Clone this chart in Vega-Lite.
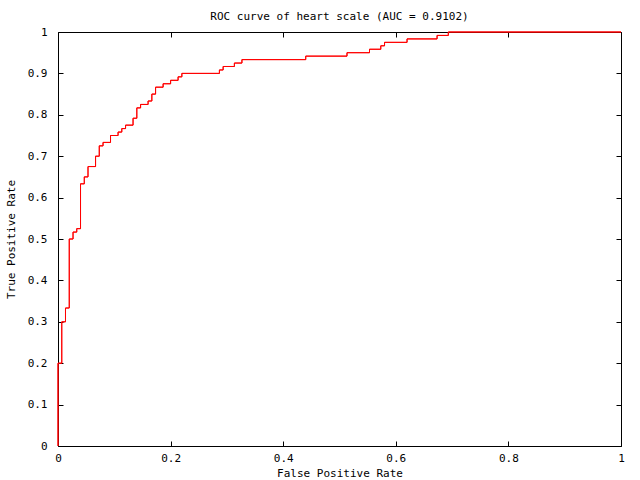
{
  "$schema": "https://vega.github.io/schema/vega-lite/v6.json",
  "width": 563,
  "height": 414,
  "autosize": {"type": "none"},
  "padding": {"left": 58, "top": 32, "right": 19, "bottom": 34},
  "background": "white",
  "title": {"text": "ROC curve of heart scale (AUC = 0.9102)", "font": "DejaVu Sans Mono", "fontSize": 11, "fontWeight": "normal", "color": "black", "offset": 4, "anchor": "middle"},
  "config": {
    "view": {"stroke": null},
    "axis": {"grid": false, "domain": true, "domainColor": "black", "domainWidth": 1, "tickColor": "black", "tickWidth": 1, "tickSize": -5, "labelFont": "DejaVu Sans Mono", "labelFontSize": 11, "labelColor": "black", "titleFont": "DejaVu Sans Mono", "titleFontSize": 11, "titleFontWeight": "normal", "titleColor": "black", "format": "~g", "labelFlush": false, "labelOverlap": false}
  },
  "data": {"values": [
    {"i": 0, "fpr": 0, "tpr": 0},
    {"i": 1, "fpr": 0, "tpr": 0.2},
    {"i": 2, "fpr": 0.0067, "tpr": 0.3},
    {"i": 3, "fpr": 0.0133, "tpr": 0.3333},
    {"i": 4, "fpr": 0.02, "tpr": 0.5},
    {"i": 5, "fpr": 0.0267, "tpr": 0.5167},
    {"i": 6, "fpr": 0.0333, "tpr": 0.525},
    {"i": 7, "fpr": 0.04, "tpr": 0.6333},
    {"i": 8, "fpr": 0.0467, "tpr": 0.65},
    {"i": 9, "fpr": 0.0533, "tpr": 0.675},
    {"i": 10, "fpr": 0.0667, "tpr": 0.7},
    {"i": 11, "fpr": 0.0733, "tpr": 0.725},
    {"i": 12, "fpr": 0.08, "tpr": 0.7333},
    {"i": 13, "fpr": 0.0933, "tpr": 0.75},
    {"i": 14, "fpr": 0.1067, "tpr": 0.7583},
    {"i": 15, "fpr": 0.1133, "tpr": 0.7667},
    {"i": 16, "fpr": 0.12, "tpr": 0.775},
    {"i": 17, "fpr": 0.1333, "tpr": 0.7917},
    {"i": 18, "fpr": 0.14, "tpr": 0.8167},
    {"i": 19, "fpr": 0.1467, "tpr": 0.825},
    {"i": 20, "fpr": 0.16, "tpr": 0.8333},
    {"i": 21, "fpr": 0.1667, "tpr": 0.85},
    {"i": 22, "fpr": 0.1733, "tpr": 0.8667},
    {"i": 23, "fpr": 0.1867, "tpr": 0.875},
    {"i": 24, "fpr": 0.2, "tpr": 0.8833},
    {"i": 25, "fpr": 0.2133, "tpr": 0.8917},
    {"i": 26, "fpr": 0.22, "tpr": 0.9},
    {"i": 27, "fpr": 0.2867, "tpr": 0.9083},
    {"i": 28, "fpr": 0.2933, "tpr": 0.9167},
    {"i": 29, "fpr": 0.3133, "tpr": 0.925},
    {"i": 30, "fpr": 0.3267, "tpr": 0.9333},
    {"i": 31, "fpr": 0.44, "tpr": 0.9417},
    {"i": 32, "fpr": 0.5133, "tpr": 0.95},
    {"i": 33, "fpr": 0.5533, "tpr": 0.9583},
    {"i": 34, "fpr": 0.5733, "tpr": 0.9667},
    {"i": 35, "fpr": 0.58, "tpr": 0.975},
    {"i": 36, "fpr": 0.62, "tpr": 0.9833},
    {"i": 37, "fpr": 0.6733, "tpr": 0.9917},
    {"i": 38, "fpr": 0.6933, "tpr": 1},
    {"i": 39, "fpr": 1, "tpr": 1}
  ]},
  "layer": [
    {
      "mark": {"type": "line", "interpolate": "step-after", "color": "#ff0000", "strokeWidth": 1},
      "encoding": {
        "x": {"field": "fpr", "type": "quantitative", "scale": {"domain": [0, 1], "nice": false}, "axis": {"orient": "bottom", "title": "False Positive Rate", "values": [0, 0.2, 0.4, 0.6, 0.8, 1], "labelOverlap": false, "labelFlush": false, "labelBound": false, "labelPadding": 11, "titleY": 27, "titleBaseline": "middle"}},
        "y": {"field": "tpr", "type": "quantitative", "scale": {"domain": [0, 1], "nice": false}, "axis": {"orient": "left", "title": "True Positive Rate", "values": [0, 0.1, 0.2, 0.3, 0.4, 0.5, 0.6, 0.7, 0.8, 0.9, 1], "labelOverlap": false, "labelFlush": false, "labelPadding": 16, "titleX": -47, "titleBaseline": "middle"}},
        "order": {"field": "i", "type": "quantitative"}
      }
    },
    {
      "mark": {"type": "line", "interpolate": "step-after", "color": "#ff0000", "strokeWidth": 1},
      "encoding": {
        "x": {"field": "fpr", "type": "quantitative", "scale": {"domain": [0, 1], "nice": false}, "axis": {"orient": "top", "title": null, "labels": false, "values": [0, 0.2, 0.4, 0.6, 0.8, 1]}},
        "y": {"field": "tpr", "type": "quantitative", "scale": {"domain": [0, 1], "nice": false}, "axis": {"orient": "right", "title": null, "labels": false, "values": [0, 0.1, 0.2, 0.3, 0.4, 0.5, 0.6, 0.7, 0.8, 0.9, 1]}},
        "order": {"field": "i", "type": "quantitative"}
      }
    }
  ],
  "resolve": {"axis": {"x": "independent", "y": "independent"}}
}
